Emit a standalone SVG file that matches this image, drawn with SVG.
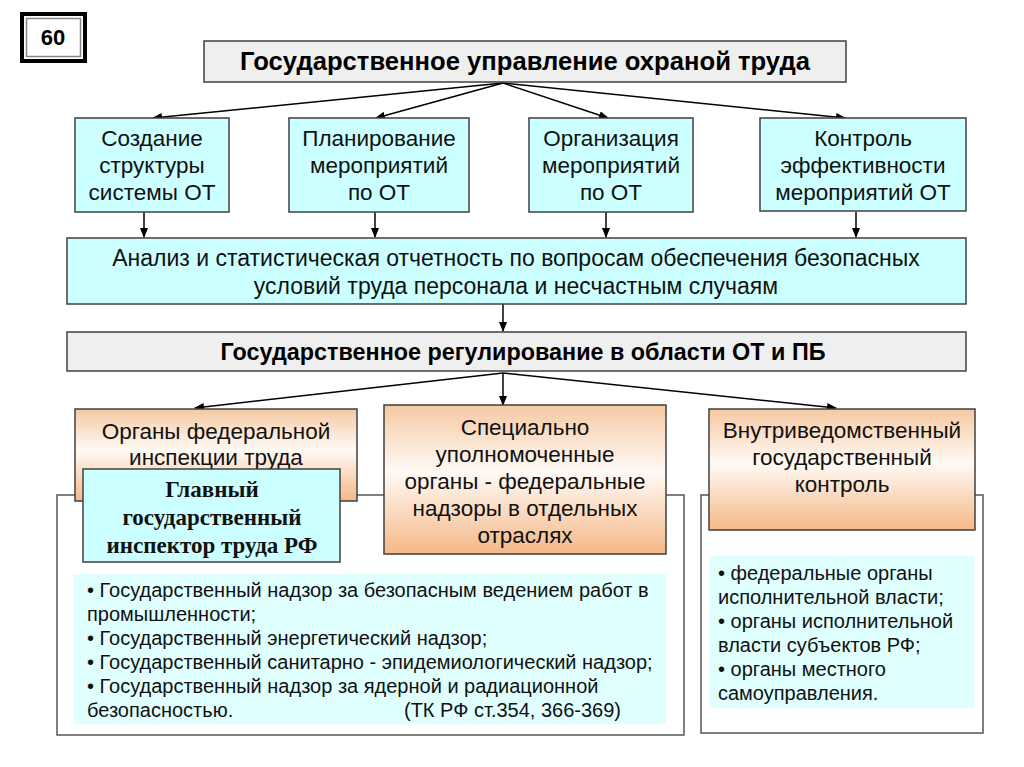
<svg xmlns="http://www.w3.org/2000/svg" width="1024" height="767" viewBox="0 0 1024 767">
<defs>
<marker id="ah" markerWidth="10" markerHeight="8" refX="9" refY="4" orient="auto" markerUnits="userSpaceOnUse">
<path d="M0,0 L10,4 L0,8 Z" fill="#000"/>
</marker>
<linearGradient id="og" x1="0" y1="0" x2="0" y2="1">
<stop offset="0" stop-color="#f6c9a3"/>
<stop offset="0.45" stop-color="#fffaf5"/>
<stop offset="1" stop-color="#f5b887"/>
</linearGradient>
<style>
.cy{fill:#ccffff;stroke:#404040;stroke-width:1.5}
.gr{fill:#efefef;stroke:#404040;stroke-width:1.5}
.or{fill:url(#og);stroke:#404040;stroke-width:1.5}
.fr{fill:#fff;stroke:#555;stroke-width:1.5}
.lb{fill:#e0ffff;stroke:none}
.t{font-family:"Liberation Sans",Arial,sans-serif;font-size:22.5px;fill:#111;text-anchor:middle}
.tb{font-family:"Liberation Sans",Arial,sans-serif;font-size:23px;font-weight:bold;fill:#000;text-anchor:middle}
.ts{font-family:"Liberation Serif","Times New Roman",serif;font-size:23px;font-weight:bold;fill:#111;text-anchor:middle}
.tl{font-family:"Liberation Sans",Arial,sans-serif;font-size:20px;fill:#111}
.c{stroke:#000;stroke-width:1.5;fill:none;marker-end:url(#ah)}
</style>
</defs>
<rect width="1024" height="767" fill="#fff"/>

<g id="badge">
<rect x="22" y="14" width="63" height="47" fill="#fff" stroke="#000" stroke-width="4"/>
<rect x="26.5" y="18.5" width="54" height="38" fill="none" stroke="#888" stroke-width="1.5"/>
<text x="53" y="45" class="tb" style="font-size:22px">60</text>
</g>

<g id="frames">
<rect x="57" y="495" width="627" height="240" class="fr"/>
<rect x="701" y="495" width="282" height="238" class="fr"/>
</g>

<g id="connectors">
<line x1="503" y1="83" x2="153" y2="118" class="c"/>
<line x1="503" y1="83" x2="376" y2="118" class="c"/>
<line x1="503" y1="83" x2="608" y2="118" class="c"/>
<line x1="503" y1="83" x2="845" y2="118" class="c"/>
<line x1="144" y1="212" x2="144" y2="237" class="c"/>
<line x1="375" y1="212" x2="375" y2="237" class="c"/>
<line x1="606" y1="212" x2="606" y2="237" class="c"/>
<line x1="856" y1="212" x2="856" y2="237" class="c"/>
<line x1="503" y1="304" x2="503" y2="331" class="c"/>
<line x1="503" y1="373" x2="195" y2="408" class="c"/>
<line x1="503" y1="373" x2="503" y2="405" class="c"/>
<line x1="503" y1="373" x2="836" y2="408" class="c"/>
</g>

<g id="title">
<rect x="204" y="41" width="642" height="41" class="gr"/>
<text x="525" y="70" class="tb" style="font-size:25px" textLength="570" lengthAdjust="spacingAndGlyphs">Государственное управление охраной труда</text>
</g>

<g id="box1">
<rect x="75" y="118" width="154" height="94" class="cy"/>
<text class="t" x="152" y="146">Создание</text>
<text class="t" x="152" y="173">структуры</text>
<text class="t" x="152" y="200">системы ОТ</text>
</g>
<g id="box2">
<rect x="289" y="118" width="180" height="94" class="cy"/>
<text class="t" x="379" y="146">Планирование</text>
<text class="t" x="379" y="173">мероприятий</text>
<text class="t" x="379" y="200">по ОТ</text>
</g>
<g id="box3">
<rect x="529" y="118" width="164" height="94" class="cy"/>
<text class="t" x="611" y="146">Организация</text>
<text class="t" x="611" y="173">мероприятий</text>
<text class="t" x="611" y="200">по ОТ</text>
</g>
<g id="box4">
<rect x="760" y="118" width="206" height="93" class="cy"/>
<text class="t" x="863" y="146">Контроль</text>
<text class="t" x="863" y="173">эффективности</text>
<text class="t" x="863" y="200">мероприятий ОТ</text>
</g>

<g id="analysis">
<rect x="67" y="238" width="899" height="66" class="cy"/>
<text class="t" x="516" y="266" style="font-size:23px">Анализ и статистическая отчетность по вопросам обеспечения безопасных</text>
<text class="t" x="516" y="294" style="font-size:23px">условий труда персонала и несчастным случаям</text>
</g>

<g id="regulation">
<rect x="67" y="332" width="899" height="39" class="gr"/>
<text class="tb" x="523" y="360" textLength="605" lengthAdjust="spacingAndGlyphs">Государственное регулирование в области ОТ и ПБ</text>
</g>

<g id="federal-inspection">
<rect x="75" y="409" width="282" height="92" class="or"/>
<text class="t" x="216" y="439">Органы федеральной</text>
<text class="t" x="216" y="465">инспекции труда</text>
</g>

<g id="special-organs">
<rect x="384" y="405" width="282" height="149" class="or"/>
<text class="t" x="525" y="435">Специально</text>
<text class="t" x="525" y="462">уполномоченные</text>
<text class="t" x="525" y="489">органы - федеральные</text>
<text class="t" x="525" y="516">надзоры в отдельных</text>
<text class="t" x="525" y="543">отраслях</text>
</g>

<g id="internal-control">
<rect x="709" y="409" width="266" height="121" class="or"/>
<text class="t" x="842" y="438">Внутриведомственный</text>
<text class="t" x="842" y="465">государственный</text>
<text class="t" x="842" y="492">контроль</text>
</g>

<g id="chief-inspector">
<rect x="83" y="469" width="257" height="93" class="cy"/>
<text class="ts" x="212" y="497">Главный</text>
<text class="ts" x="212" y="525">государственный</text>
<text class="ts" x="212" y="553">инспектор труда РФ</text>
</g>

<g id="supervision-list">
<rect x="73" y="574" width="593" height="150" class="lb"/>
<text class="tl" x="87" y="597">• Государственный надзор за безопасным ведением работ в</text>
<text class="tl" x="87" y="621">промышленности;</text>
<text class="tl" x="87" y="645">• Государственный энергетический надзор;</text>
<text class="tl" x="87" y="669">• Государственный санитарно - эпидемиологический надзор;</text>
<text class="tl" x="87" y="693">• Государственный надзор за ядерной и радиационной</text>
<text class="tl" x="87" y="717">безопасностью.</text>
<text class="tl" x="621" y="717" text-anchor="end">(ТК РФ ст.354, 366-369)</text>
</g>

<g id="executive-list">
<rect x="709" y="556" width="265" height="152" class="lb"/>
<text class="tl" x="718" y="580">• федеральные органы</text>
<text class="tl" x="718" y="604">исполнительной власти;</text>
<text class="tl" x="718" y="628">• органы исполнительной</text>
<text class="tl" x="718" y="652">власти субъектов РФ;</text>
<text class="tl" x="718" y="676">• органы местного</text>
<text class="tl" x="718" y="700">самоуправления.</text>
</g>
</svg>
